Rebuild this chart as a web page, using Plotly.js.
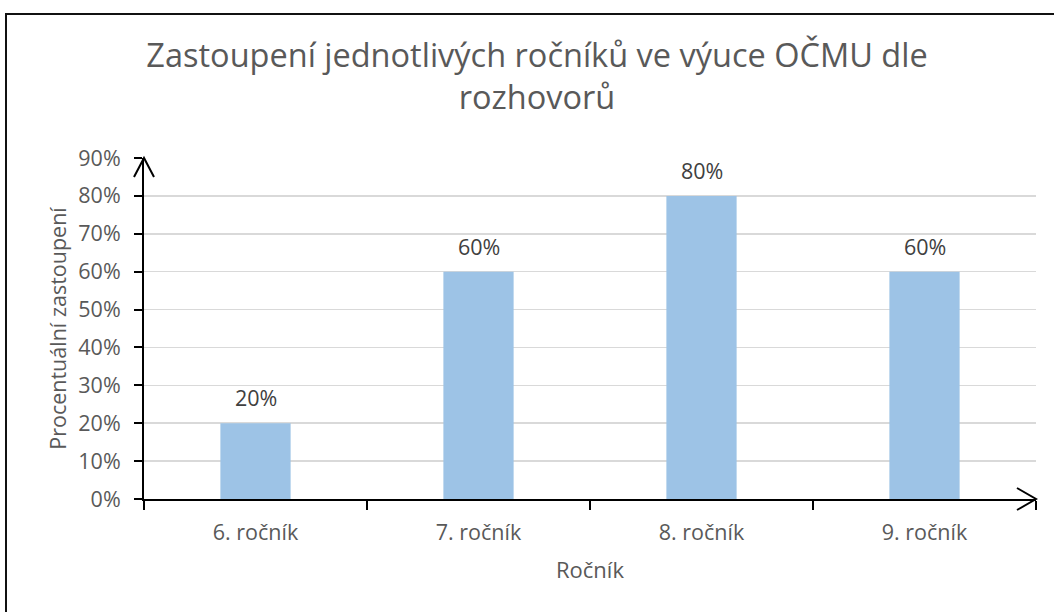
<!DOCTYPE html>
<html>
<head>
<meta charset="utf-8">
<script src="https://cdn.plot.ly/plotly-3.0.1.min.js"></script>
<style>html,body{margin:0;padding:0;background:#fff;}#chart{width:1054px;height:612px;}</style>
</head>
<body>
<div id="chart"></div>
<script>
// ---- data ----
const categories = ["6. ročník", "7. ročník", "8. ročník", "9. ročník"];
const values = [0.20, 0.60, 0.80, 0.60];
const valueLabels = ["20%", "60%", "80%", "60%"];
const yTickVals = [0, 0.1, 0.2, 0.3, 0.4, 0.5, 0.6, 0.7, 0.8, 0.9];
const yTickText = ["0%", "10%", "20%", "30%", "40%", "50%", "60%", "70%", "80%", "90%"];
const titleText = "Zastoupení jednotlivých ročníků ve výuce OČMU dle<br>rozhovorů";
const xTitle = "Ročník";
const yTitle = "Procentuální zastoupení";

// ---- layout geometry (pixels) ----
const W = 1054, H = 612;
const M = {l: 144, r: 18, t: 158, b: 113};
const PW = W - M.l - M.r, PH = H - M.t - M.b;
const px = x => (x - M.l) / PW;
const py = y => (H - M.b - y) / PH;
const FONT = "Open Sans, sans-serif";
const GRAY = "#595959";

function path(pts) {
  return pts.map((p, i) => (i ? "L" : "M") + px(p[0]) + "," + py(p[1])).join(" ");
}

const trace = {
  type: "bar",
  x: categories,
  y: values,
  marker: {color: "#9DC3E6"},
  hoverinfo: "skip",
  width: 0.315
};

const annotations = categories.map((c, i) => ({
  x: c, y: values[i], xref: "x", yref: "y",
  text: valueLabels[i], showarrow: false,
  yanchor: "bottom", yshift: 9,
  font: {family: FONT, size: 21.5, color: "#404040"}
}));

const shapes = [
  // outer chart border
  {type: "rect", xref: "paper", yref: "paper",
   x0: px(6), x1: px(1070), y0: py(630), y1: py(14),
   line: {color: "#111", width: 2}, layer: "below"},
  // y arrow head
  {type: "path", xref: "paper", yref: "paper",
   path: path([[134, 177], [144, 158], [154, 177]]),
   line: {color: "#000", width: 2}},
  // x arrow head
  {type: "path", xref: "paper", yref: "paper",
   path: path([[1017, 488], [1036, 499], [1017, 510]]),
   line: {color: "#000", width: 2}}
];

const layout = {
  width: W, height: H,
  margin: M,
  paper_bgcolor: "#fff", plot_bgcolor: "#fff",
  showlegend: false,
  font: {family: FONT, color: GRAY, size: 21},
  title: {
    text: titleText,
    font: {family: FONT, size: 32.5, color: GRAY},
    xref: "container", x: 537 / W, xanchor: "center",
    yref: "container", y: 1 - 67 / H, yanchor: "top"
  },
  xaxis: {
    type: "category",
    range: [-0.5, 3.5],
    tickson: "boundaries",
    ticks: "outside", ticklen: 9, tickwidth: 2, tickcolor: "#000",
    showline: true, linecolor: "#000", linewidth: 2,
    showgrid: false, zeroline: false,
    ticklabelstandoff: 13,
    tickfont: {family: FONT, size: 21.5, color: GRAY},
    title: {text: xTitle, font: {family: FONT, size: 22, color: GRAY}, standoff: 18}
  },
  yaxis: {
    range: [0, 0.9],
    tickvals: yTickVals, ticktext: yTickText,
    ticks: "outside", ticklen: 8, tickwidth: 2, tickcolor: "#000",
    showline: true, linecolor: "#000", linewidth: 2,
    showgrid: true, gridcolor: "#D9D9D9", gridwidth: 1.5,
    zeroline: false,
    ticklabelstandoff: 9,
    tickfont: {family: FONT, size: 21.5, color: GRAY},
    title: {text: yTitle, font: {family: FONT, size: 21.5, color: GRAY}, standoff: 6}
  },
  annotations: annotations,
  shapes: shapes
};

Plotly.newPlot("chart", [trace], layout, {staticPlot: true, displayModeBar: false});
</script>
</body>
</html>
